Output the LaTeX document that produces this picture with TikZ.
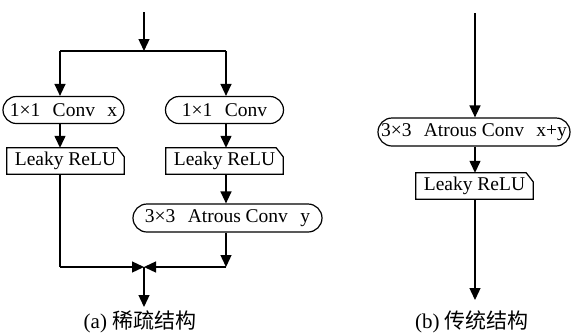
\documentclass[tikz,border=0pt]{standalone}
\usepackage{fontspec}
\setmainfont{Liberation Serif}
\newfontfamily\cjk{Noto Sans CJK SC}
\usetikzlibrary{shapes.misc,arrows.meta,calc}
\tikzset{
  conn/.style={line width=1.3pt},
  arr/.style={conn,-{Triangle[length=12pt,width=11pt]}},
  convbox/.style={rounded rectangle,draw,line width=1.2pt,minimum height=27pt,inner sep=0pt,font=\fontsize{19.5}{21}\selectfont},
  relubox/.style={draw=none,minimum height=26pt,inner sep=0pt,font=\fontsize{19.5}{21}\selectfont},
  captext/.style={font=\fontsize{21}{22}\selectfont},
}
\newcommand{\gp}{\hspace{0.63em}}
\newcommand{\relu}[1]{\draw[line width=1.2pt] (#1.south west) -- (#1.north west) -- ([xshift=-7pt]#1.north east) -- ([yshift=-9pt]#1.north east) -- (#1.south east) -- cycle;}
\begin{document}
\begin{tikzpicture}[x=1pt,y=-1pt]
\useasboundingbox (0,0) rectangle (571,333);
% (a)
\coordinate (top) at (144,12);
\coordinate (split) at (144,51);
\coordinate (jL) at (60,51);
\coordinate (jR) at (226,51);
\node[convbox,minimum width=121pt] (c1) at (63.5,110) {1\texttimes1\gp Conv\gp x};
\node[convbox,minimum width=118pt] (c2) at (224.5,110) {1\texttimes1\gp Conv};
\node[relubox,minimum width=117pt] (r1) at (65.5,161) {Leaky ReLU};
\relu{r1}
\node[relubox,minimum width=117pt] (r2) at (224.5,161) {Leaky ReLU};
\relu{r2}
\node[convbox,minimum width=189pt,minimum height=28pt] (a1) at (227.5,218) {3\texttimes3\gp Atrous Conv\gp y};
\coordinate (mL) at (60,267);
\coordinate (mR) at (226,267);
\coordinate (m) at (144,267);
\coordinate (outa) at (144,307);
\draw[arr] (top) -- (split);
\draw[conn] (jL) -- (jR);
\draw[arr] (jL) -- (jL |- c1.north);
\draw[arr] (jR) -- (jR |- c2.north);
\draw[arr] (c1.south -| jL) -- (r1.north -| jL);
\draw[arr] (c2.south -| jR) -- (r2.north -| jR);
\draw[arr] (r2.south -| jR) -- (a1.north -| jR);
\draw[conn] (r1.south -| mL) -- (mL);
\draw[arr] (a1.south -| mR) -- (mR);
\draw[arr] (mL) -- (m);
\draw[arr] (mR) -- (m);
\draw[arr] (m) -- (outa);
\node[captext] (capa) at (140,322) {(a) {\cjk 稀疏结构}};
% (b)
\coordinate (topb) at (475,13);
\node[convbox,minimum width=192pt,minimum height=28pt] (a2) at (474,132) {3\texttimes3\gp Atrous Conv\gp x+y};
\node[relubox,minimum width=117pt] (r3) at (474.5,186) {Leaky ReLU};
\relu{r3}
\coordinate (outb) at (475,300);
\draw[arr] (topb) -- (topb |- a2.north);
\draw[arr] (a2.south -| topb) -- (r3.north -| topb);
\draw[arr] (r3.south -| topb) -- (outb);
\node[captext] (capb) at (472,322) {(b) {\cjk 传统结构}};
\end{tikzpicture}
\end{document}
